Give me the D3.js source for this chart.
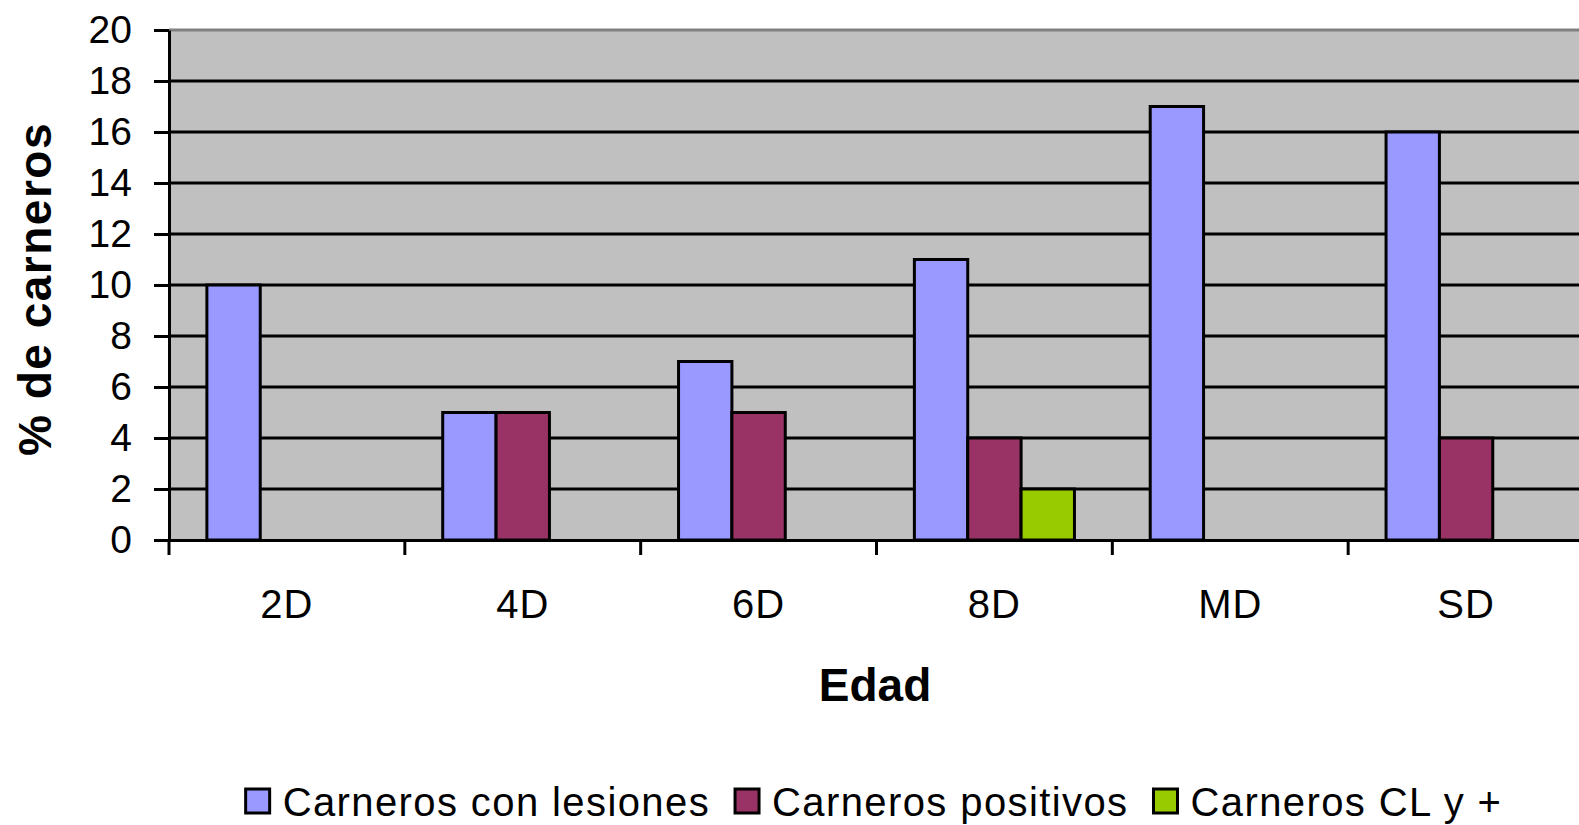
<!DOCTYPE html>
<html>
<head>
<meta charset="utf-8">
<script src="https://cdn.jsdelivr.net/npm/d3@7"></script>
<style>
  html, body { margin: 0; padding: 0; background: #fff; overflow: hidden; }
  svg { display: block; font-family: "Liberation Sans", Arial, sans-serif; }
</style>
</head>
<body>
<svg id="chart" width="1579" height="825"></svg>
<script>
const categories = ["2D", "4D", "6D", "8D", "MD", "SD"];
const seriesNames = ["Carneros con lesiones", "Carneros positivos", "Carneros CL y +"];
const conLesiones = [10, 5, 7, 11, 17, 16];
const positivos = [0, 5, 5, 4, 0, 4];
const clYPositivo = [0, 0, 0, 2, 0, 0];
const seriesColors = ["#9999FF", "#993366", "#99CC00"];
const yTicks = [0, 2, 4, 6, 8, 10, 12, 14, 16, 18, 20];
const xTitle = "Edad";
const yTitle = "% de carneros";

const seriesValues = [conLesiones, positivos, clYPositivo];

const svg = d3.select("#chart");
const pLeft = 169, pRight = 1584, pTop = 30, pBottom = 540;

const x0 = d3.scaleBand().domain(categories).range([pLeft, pRight]).paddingInner(0).paddingOuter(0);
const x1 = d3.scaleBand().domain(seriesNames).range([0, x0.bandwidth()]).paddingInner(0).paddingOuter(0.71);
const y = d3.scaleLinear().domain([0, 20]).range([pBottom, pTop]);

// plot background
svg.append("rect").attr("x", pLeft).attr("y", pTop).attr("width", pRight - pLeft).attr("height", pBottom - pTop)
  .attr("fill", "#C0C0C0");

// gridlines
svg.append("g").selectAll("line").data(yTicks.filter(d => d > 0 && d < 20)).join("line")
  .attr("x1", pLeft).attr("x2", pRight).attr("y1", d => y(d)).attr("y2", d => y(d))
  .attr("stroke", "#000").attr("stroke-width", 3);
// top border
svg.append("line").attr("x1", pLeft).attr("x2", pRight).attr("y1", y(20)).attr("y2", y(20))
  .attr("stroke", "#808080").attr("stroke-width", 3);

// bars
const barData = [];
categories.forEach((c, i) => {
  seriesNames.forEach((s, j) => {
    const v = seriesValues[j][i];
    if (v > 0) barData.push({ c, s, v, color: seriesColors[j] });
  });
});
svg.append("g").selectAll("rect").data(barData).join("rect")
  .attr("x", d => x0(d.c) + x1(d.s))
  .attr("y", d => y(d.v))
  .attr("width", x1.bandwidth())
  .attr("height", d => y(0) - y(d.v))
  .attr("fill", d => d.color)
  .attr("stroke", "#000").attr("stroke-width", 3);

// y axis
const yAxis = d3.axisLeft(y).tickValues(yTicks).tickSize(15).tickPadding(22).tickSizeOuter(0);
const gy = svg.append("g").attr("transform", `translate(${pLeft},0)`).call(yAxis);
gy.select(".domain").attr("stroke", "#000").attr("stroke-width", 3);
gy.selectAll(".tick line").attr("stroke", "#000").attr("stroke-width", 3);
gy.selectAll(".tick text").attr("font-size", 39).attr("fill", "#000")
  .attr("font-family", "Liberation Sans, Arial, sans-serif");

// x axis
const xAxis = d3.axisBottom(x0).tickSize(0).tickPadding(0).tickSizeOuter(0);
const gx = svg.append("g").attr("transform", `translate(0,${pBottom})`).call(xAxis);
gx.select(".domain").attr("stroke", "#000").attr("stroke-width", 3);
gx.selectAll(".tick text").attr("font-size", 40).attr("fill", "#000")
  .attr("font-family", "Liberation Sans, Arial, sans-serif")
  .attr("letter-spacing", 1)
  .attr("dy", null).attr("y", 78);
// category boundary ticks
const boundaries = categories.map(c => x0(c));
gx.append("g").selectAll("line").data(boundaries).join("line")
  .attr("x1", d => d).attr("x2", d => d).attr("y1", 0).attr("y2", 15)
  .attr("stroke", "#000").attr("stroke-width", 3);

// axis titles
svg.append("text").attr("x", 875).attr("y", 701).attr("text-anchor", "middle")
  .attr("font-size", 46).attr("font-weight", "bold").attr("fill", "#000").text(xTitle);
svg.append("text").attr("transform", "translate(51,289) rotate(-90)").attr("text-anchor", "middle")
  .attr("font-size", 46).attr("font-weight", "bold").attr("fill", "#000")
  .attr("letter-spacing", 1.5).text(yTitle);

// legend
const legend = svg.append("g");
let lx = 0;
seriesNames.forEach((s, i) => {
  const g = legend.append("g").attr("transform", `translate(${lx},0)`);
  g.append("rect").attr("x", 0).attr("y", 789).attr("width", 24).attr("height", 24)
    .attr("fill", seriesColors[i]).attr("stroke", "#000").attr("stroke-width", 3);
  const t = g.append("text").attr("x", 37).attr("y", 816).attr("font-size", 40)
    .attr("letter-spacing", 1.4).attr("fill", "#000").text(s);
  const w = t.node().getComputedTextLength();
  lx += 37 + w + 25;
});
const total = lx - 25;
legend.attr("transform", `translate(${874 - total / 2},0)`);
</script>
</body>
</html>
